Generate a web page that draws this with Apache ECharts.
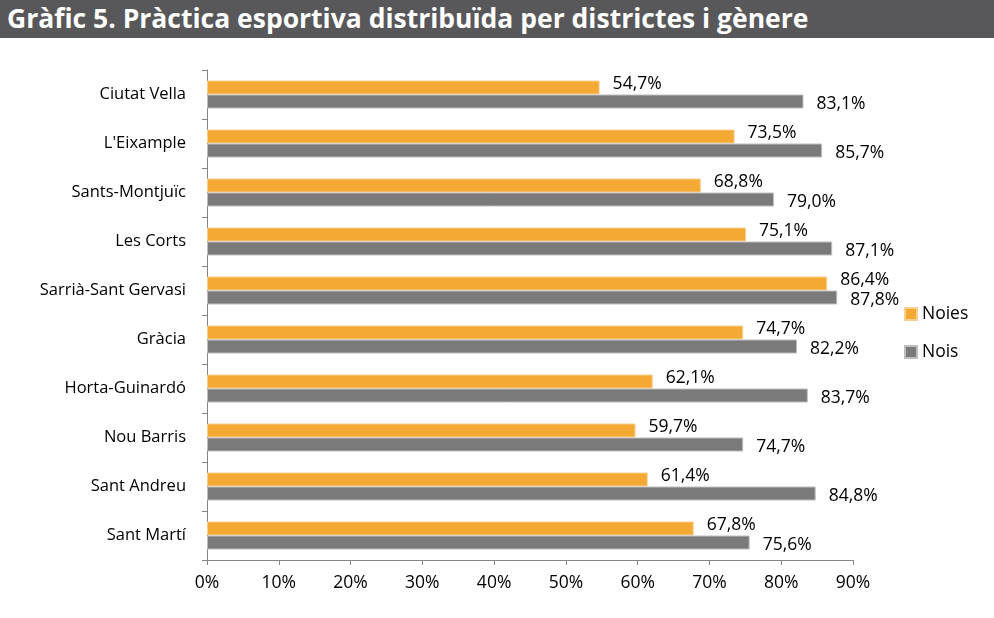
<!DOCTYPE html>
<html>
<head>
<meta charset="utf-8">
<script src="https://cdn.jsdelivr.net/npm/echarts@6/dist/echarts.min.js"></script>
<style>
  html, body { margin: 0; padding: 0; background: #fff; }
  #title {
    position: absolute; left: 0; top: 0; width: 994px; height: 38px;
    background: #58585a; color: #fff;
    font-family: "Open Sans", sans-serif; font-weight: bold; font-size: 26.5px;
    line-height: 37px; padding-left: 7px; box-sizing: border-box; white-space: nowrap;
  }
  #chart { position: absolute; left: 0; top: 0; width: 994px; height: 618px; }
</style>
</head>
<body>
<div id="chart"></div>
<div id="title">Gràfic 5. Pràctica esportiva distribuïda per districtes i gènere</div>
<script>
const districtes = ['Ciutat Vella', "L'Eixample", 'Sants-Montjuïc', 'Les Corts', 'Sarrià-Sant Gervasi',
  'Gràcia', 'Horta-Guinardó', 'Nou Barris', 'Sant Andreu', 'Sant Martí'];
const noies = [54.7, 73.5, 68.8, 75.1, 86.4, 74.7, 62.1, 59.7, 61.4, 67.8];
const nois = [83.1, 85.7, 79.0, 87.1, 87.8, 82.2, 83.7, 74.7, 84.8, 75.6];

const fmt = (p) => p.value.toFixed(1).replace('.', ',') + '%';
const font = '"Open Sans", sans-serif';

const chart = echarts.init(document.getElementById('chart'));
chart.setOption({
  animation: false,
  textStyle: { fontFamily: font },
  grid: { left: 207, right: 141, top: 70, bottom: 58 },
  legend: {
    orient: 'vertical',
    left: 899, top: 300,
    itemWidth: 12, itemHeight: 12, itemGap: 20,
    icon: 'rect',
    textStyle: { fontSize: 17.5, color: '#000', fontFamily: font },
    data: ['Noies', 'Nois']
  },
  xAxis: {
    type: 'value', min: 0, max: 90, interval: 10,
    axisLine: { show: true, lineStyle: { color: '#868686' } },
    axisTick: { show: true, length: 5, lineStyle: { color: '#868686' } },
    splitLine: { show: false },
    axisLabel: { formatter: '{value}%', fontSize: 17.5, color: '#000', margin: 14, fontFamily: font }
  },
  yAxis: {
    type: 'category', inverse: true, data: districtes,
    axisLine: { show: true, lineStyle: { color: '#868686' } },
    axisTick: { show: true, length: 5, lineStyle: { color: '#868686' } },
    axisLabel: { fontSize: 16.5, color: '#000', margin: 21, fontFamily: font }
  },
  series: [
    {
      name: 'Noies', type: 'bar', data: noies,
      barWidth: 14, barGap: '0%',
      itemStyle: { color: '#f4a935', borderColor: '#f8cf8f', borderWidth: 1 },
      label: { show: true, position: 'right', distance: 13, offset: [0, -3],
        formatter: fmt, fontSize: 17.5, color: '#000', fontFamily: font }
    },
    {
      name: 'Nois', type: 'bar', data: nois,
      barWidth: 14, barGap: '0%',
      itemStyle: { color: '#7a7a7a', borderColor: '#bdbdbd', borderWidth: 1 },
      label: { show: true, position: 'right', distance: 13, offset: [0, 3],
        formatter: fmt, fontSize: 17.5, color: '#000', fontFamily: font }
    }
  ]
});
</script>
</body>
</html>
